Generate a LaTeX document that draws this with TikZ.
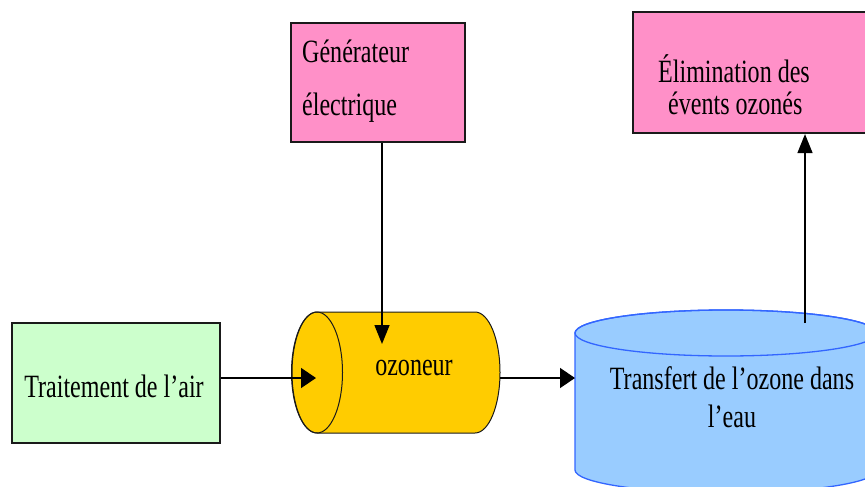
\documentclass[tikz,border=0pt]{standalone}
\usepackage{fontspec}
\setmainfont{Liberation Serif}[FakeStretch=0.74]
\usetikzlibrary{arrows.meta}
\definecolor{pinkfill}{HTML}{FF90C8}
\definecolor{greenfill}{HTML}{CCFFCC}
\definecolor{yellowfill}{HTML}{FFCC00}
\definecolor{bluefill}{HTML}{99CCFF}
\definecolor{blueline}{HTML}{3366FF}
\definecolor{boxline}{HTML}{1A1A1A}
\tikzset{
  boxnode/.style={draw=boxline, line width=2.2pt, inner sep=0pt},
  txt/.style={inner sep=0pt, font=\fontsize{32.5}{39}\selectfont, text=black},
  harr/.style={line width=1.5pt, -{Triangle[length=15pt,width=20pt]}},
  varr/.style={line width=1.5pt, -{Triangle[length=19pt,width=15pt]}},
}
\begin{document}
\begin{tikzpicture}[x=1pt,y=-1pt]
\useasboundingbox (0,0) rectangle (865,487);
\clip (0,0) rectangle (865,487);
% boxes
\node[boxnode, fill=greenfill, minimum width=208pt, minimum height=120pt] (air) at (116,383) {};
\node[txt, anchor=base] (airT) at (114,397) {Traitement de l’air};
\node[boxnode, fill=pinkfill, minimum width=174pt, minimum height=119pt] (gen) at (378,82.5) {};
\node[txt, anchor=base west] (genT1) at (302,63) {Générateur};
\node[txt, anchor=base west] (genT2) at (302,115) {électrique};
\node[boxnode, fill=pinkfill, minimum width=237pt, minimum height=121pt] (elim) at (751.5,72.5) {};
\node[txt, anchor=base west] (elimT1) at (658,82) {Élimination des};
\node[txt, anchor=base west] (elimT2) at (668,114) {évents ozonés};
% ozoneur cylinder
\filldraw[fill=yellowfill, draw=boxline, line width=1pt]
  (317,312) -- (475,312) arc[start angle=90,end angle=-90,x radius=25pt,y radius=60.5pt]
  -- (317,433) arc[start angle=270,end angle=90,x radius=25pt,y radius=60.5pt] -- cycle;
\draw[boxline, line width=1pt] (317,372.5) ellipse[x radius=25.5pt, y radius=60.5pt];
\node[txt, anchor=base] (ozT) at (414,375) {ozoneur};
% transfer cylinder
\filldraw[fill=bluefill, draw=blueline, line width=1.3pt]
  (575,333) -- (575,470) arc[start angle=180,end angle=360,x radius=151pt,y radius=23pt]
  -- (877,333) arc[start angle=0,end angle=180,x radius=151pt,y radius=23pt] -- cycle;
\draw[blueline, line width=1.3pt] (726,333) ellipse[x radius=151pt, y radius=23pt];
\node[txt, anchor=base] (trT1) at (732,389) {Transfert de l’ozone dans};
\node[txt, anchor=base] (trT2) at (732,427) {l’eau};
% connector end points
\coordinate (ozIn) at (316,378);
\coordinate (ozOut) at (500,378);
\coordinate (trIn) at (575,378);
\coordinate (genIn) at (382,344);
\coordinate (trTop) at (805,323);
% connectors
\draw[harr] (air.east |- ozIn) -- (ozIn);
\draw[harr] (ozOut) -- (trIn);
\draw[varr] (gen.south -| genIn) -- (genIn);
\draw[varr] (trTop) -- (elim.south -| trTop);
\end{tikzpicture}
\end{document}
